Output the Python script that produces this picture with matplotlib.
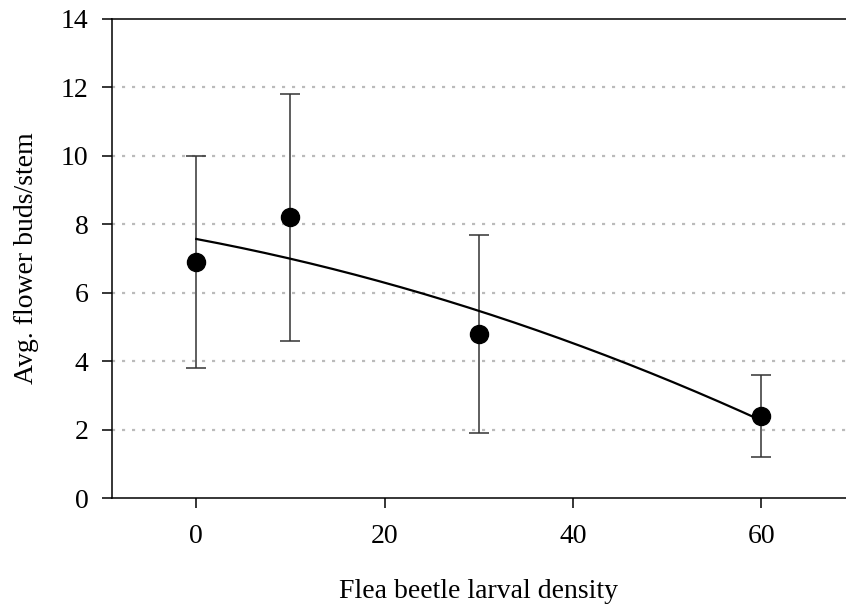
import matplotlib
matplotlib.use('Agg')
import matplotlib.pyplot as plt
import numpy as np

# larval density vs. mean flower buds per stem
density = [0, 10, 30, 60]
buds_mean = [6.9, 8.2, 4.8, 2.4]
buds_low = [3.8, 4.6, 1.9, 1.2]
buds_high = [10.0, 11.8, 7.7, 3.6]
y_ticks = [0, 2, 4, 6, 8, 10, 12, 14]
x_ticks = [0, 20, 40, 60]

plt.rcParams['font.family'] = ['Liberation Serif', 'DejaVu Serif']

fig = plt.figure(figsize=(8.46, 6.05), dpi=100)
ax = fig.add_axes([111.5 / 846, 1 - 498 / 605, 1 - 111.5 / 846, (498 - 19) / 605])

# quadratic trend through the means
coef = np.polyfit(density, buds_mean, 2)
xs = np.linspace(0, 60, 200)
ax.plot(xs, np.polyval(coef, xs), color='black', lw=1.6, zorder=3)

yerr = [np.array(buds_mean) - np.array(buds_low), np.array(buds_high) - np.array(buds_mean)]
ax.errorbar(density, buds_mean, yerr=yerr, fmt='none', ecolor='#333333',
            elinewidth=1.1, capsize=7, capthick=1.1, zorder=2)
ax.plot(density, buds_mean, 'o', color='black', markersize=13, zorder=4)

ax.set_xlim(-9, 69)
ax.set_ylim(0, 14)
ax.set_xticks(x_ticks)
ax.set_yticks(y_ticks)
for v in y_ticks[1:-1]:
    ax.axhline(v, color='#bbbbbb', lw=1.6, linestyle=(0, (1.4, 3.1)), zorder=1)

ax.spines['right'].set_visible(False)
for s in ['left', 'top', 'bottom']:
    ax.spines[s].set_linewidth(1.1)
ax.tick_params(direction='out', length=7.5, width=1.1, labelsize=20)
ax.tick_params(axis='x', pad=11)
ax.tick_params(axis='y', pad=9)

ax.set_xlabel('Flea beetle larval density', fontsize=20, labelpad=22)
ax.set_ylabel('Avg. flower buds/stem', fontsize=20, labelpad=16)

plt.savefig('out.png', dpi=100)
